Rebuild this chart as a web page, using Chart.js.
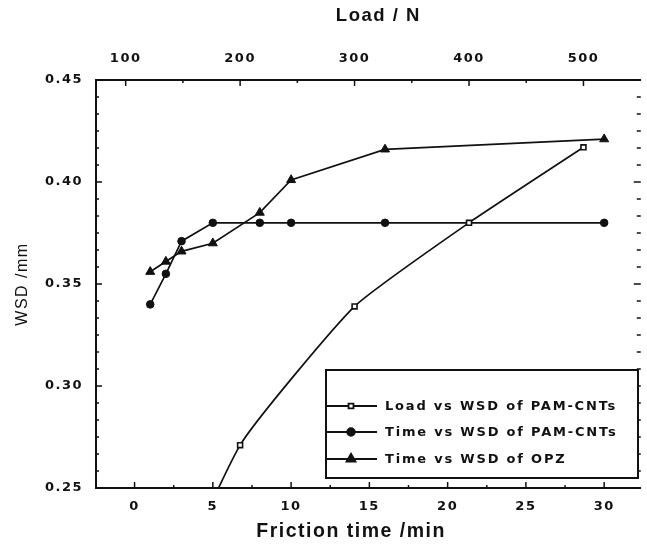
<!DOCTYPE html>
<html><head><meta charset="utf-8">
<script src="https://cdn.jsdelivr.net/npm/chart.js@4.4.0/dist/chart.umd.min.js"></script>
<style>html,body{margin:0;padding:0;background:#fff;} #wrap{width:647px;height:551px;position:relative;}</style>
</head><body><div id="wrap"><canvas id="c"></canvas></div>
<script>
// ---- data ----
const timeMin     = [1, 2, 3, 5, 8, 10, 16, 30];
const wsdTimePAM  = [0.340, 0.355, 0.371, 0.380, 0.380, 0.380, 0.380, 0.380];
const wsdTimeOPZ  = [0.356, 0.361, 0.366, 0.370, 0.385, 0.401, 0.416, 0.421];
const loadN       = [100, 200, 300, 400, 500];
const wsdLoadPAM  = [0.150, 0.271, 0.339, 0.380, 0.417];
const timeTicks   = [0, 5, 10, 15, 20, 25, 30];
const loadTicks   = [100, 200, 300, 400, 500];
const wsdTicks    = [0.25, 0.30, 0.35, 0.40, 0.45];
const seriesLabels = ['Load vs WSD of PAM-CNTs', 'Time vs WSD of PAM-CNTs', 'Time vs WSD of OPZ'];

const pts = (xs, ys) => xs.map((x, i) => ({x, y: ys[i]}));
const BLACK = '#111';
const tickFont = {family: 'DejaVu Sans', size: 13, weight: 'bold'};

function setTicks(arr) { return s => { s.ticks = arr.map(v => ({value: v})); }; }

// inward tick marks on all four sides
const innerTicks = {
  id: 'innerTicks',
  afterDatasetsDraw(chart) {
    const {ctx, chartArea: ca, scales} = chart;
    ctx.save();
    ctx.strokeStyle = BLACK;
    ctx.lineWidth = 1.5;
    const seg = (x1, y1, x2, y2) => { ctx.beginPath(); ctx.moveTo(x1, y1); ctx.lineTo(x2, y2); ctx.stroke(); };
    const xs = scales.x;
    for (let v = 0; v <= 32; v += 2.5) {
      const p = xs.getPixelForValue(v); const L = (v % 5 === 0) ? 6 : 3;
      seg(p, ca.bottom, p, ca.bottom - L);
    }
    const xt = scales.xTop;
    for (let v = 100; v <= 549; v += 50) {
      const p = xt.getPixelForValue(v); const L = (v % 100 === 0) ? 6 : 3;
      seg(p, ca.top, p, ca.top + L);
    }
    const ys = scales.y;
    for (let k = 0; k <= 24; k++) {
      const v = 0.25 + k * 0.05 / 6;
      const p = ys.getPixelForValue(v); const L = (k % 6 === 0) ? 6 : 3;
      seg(ca.left, p, ca.left + L, p);
      seg(ca.right, p, ca.right - L - 1, p);
    }
    ctx.restore();
  }
};

// legend box inside the plot
const boxLegend = {
  id: 'boxLegend',
  afterDraw(chart) {
    const {ctx, chartArea: ca} = chart;
    const bx = ca.left + 230, by = ca.top + 290, bw = 312, bh = 108;
    ctx.save();
    ctx.fillStyle = '#fff';
    ctx.fillRect(bx, by, bw, bh);
    ctx.strokeStyle = BLACK; ctx.lineWidth = 2;
    ctx.strokeRect(bx, by, bw, bh);
    const rows = [36, 62, 89];
    chart.data.datasets.forEach((ds, i) => {
      const y = by + rows[i];
      ctx.lineWidth = 1.8; ctx.strokeStyle = BLACK;
      ctx.beginPath(); ctx.moveTo(bx, y); ctx.lineTo(bx + 51, y); ctx.stroke();
      ctx.fillStyle = ds.pointBackgroundColor; ctx.strokeStyle = BLACK;
      Chart.helpers.drawPoint(ctx, {pointStyle: ds.pointStyle, radius: ds.pointRadius, rotation: 0, borderWidth: ds.pointBorderWidth}, bx + 25, y);
      ctx.fillStyle = BLACK;
      ctx.font = 'bold 13px "DejaVu Sans"';
      ctx.letterSpacing = '1.8px';
      ctx.textBaseline = 'middle'; ctx.textAlign = 'left';
      ctx.fillText(ds.label, bx + 59, y + 1);
    });
    ctx.restore();
  }
};

const spacing = {
  id: 'spacing',
  beforeDraw(chart) { chart.ctx.letterSpacing = '1.5px'; }
};

new Chart(document.getElementById('c'), {
  type: 'scatter',
  data: {
    datasets: [
      {label: seriesLabels[0], data: pts(loadN, wsdLoadPAM), xAxisID: 'xTop', yAxisID: 'y',
       showLine: true, borderColor: BLACK, borderWidth: 1.7, pointStyle: 'rect', pointRadius: 3.5,
       pointBackgroundColor: '#fff', pointBorderColor: BLACK, pointBorderWidth: 1.6, tension: 0.15},
      {label: seriesLabels[1], data: pts(timeMin, wsdTimePAM), xAxisID: 'x', yAxisID: 'y',
       showLine: true, borderColor: BLACK, borderWidth: 1.7, pointStyle: 'circle', pointRadius: 3.8,
       pointBackgroundColor: BLACK, pointBorderColor: BLACK, pointBorderWidth: 1},
      {label: seriesLabels[2], data: pts(timeMin, wsdTimeOPZ), xAxisID: 'x', yAxisID: 'y',
       showLine: true, borderColor: BLACK, borderWidth: 1.7, pointStyle: 'triangle', pointRadius: 5.2,
       pointBackgroundColor: BLACK, pointBorderColor: BLACK, pointBorderWidth: 1}
    ]
  },
  options: {
    responsive: true, maintainAspectRatio: false, animation: false,
    layout: {padding: {left: 0, right: 0, top: 0, bottom: 0}},
    plugins: {legend: {display: false}, tooltip: {enabled: false}},
    scales: {
      x: {type: 'linear', position: 'bottom', min: -2.464, max: 32.34,
          afterBuildTicks: setTicks(timeTicks),
          afterFit: s => { s.height = 63; },
          grid: {display: false, drawTicks: false},
          border: {display: true, color: BLACK, width: 2},
          ticks: {color: BLACK, font: tickFont, padding: 11, maxRotation: 0, autoSkip: false},
          title: {display: true, text: 'Friction time /min     ', color: BLACK,
                  font: {family: 'Liberation Sans', size: 19.5, weight: 'bold'}, padding: {top: 0, bottom: 8}}},
      xTop: {type: 'linear', position: 'top', min: 74.07, max: 550.1,
          afterBuildTicks: setTicks(loadTicks),
          afterFit: s => { s.height = 80; },
          grid: {display: false, drawTicks: false},
          border: {display: true, color: BLACK, width: 2},
          ticks: {color: BLACK, font: tickFont, padding: 14, maxRotation: 0, autoSkip: false},
          title: {display: true, text: '   Load / N', color: BLACK,
                  font: {family: 'Liberation Sans', size: 18.5, weight: 'bold'}, padding: {top: 5, bottom: 0}}},
      y: {type: 'linear', position: 'left', min: 0.25, max: 0.45,
          afterBuildTicks: setTicks(wsdTicks),
          afterFit: s => { s.width = 96; },
          grid: {display: false, drawTicks: false},
          border: {display: true, color: BLACK, width: 2},
          ticks: {color: BLACK, font: tickFont, padding: 13, autoSkip: false,
                  callback: v => v.toFixed(2)},
          title: {display: true, text: 'WSD /mm', color: BLACK,
                  font: {family: 'Liberation Sans', size: 16}, padding: {top: 13, bottom: 0}}}
    }
  },
  plugins: [spacing, innerTicks, boxLegend]
});
</script>
</body></html>
